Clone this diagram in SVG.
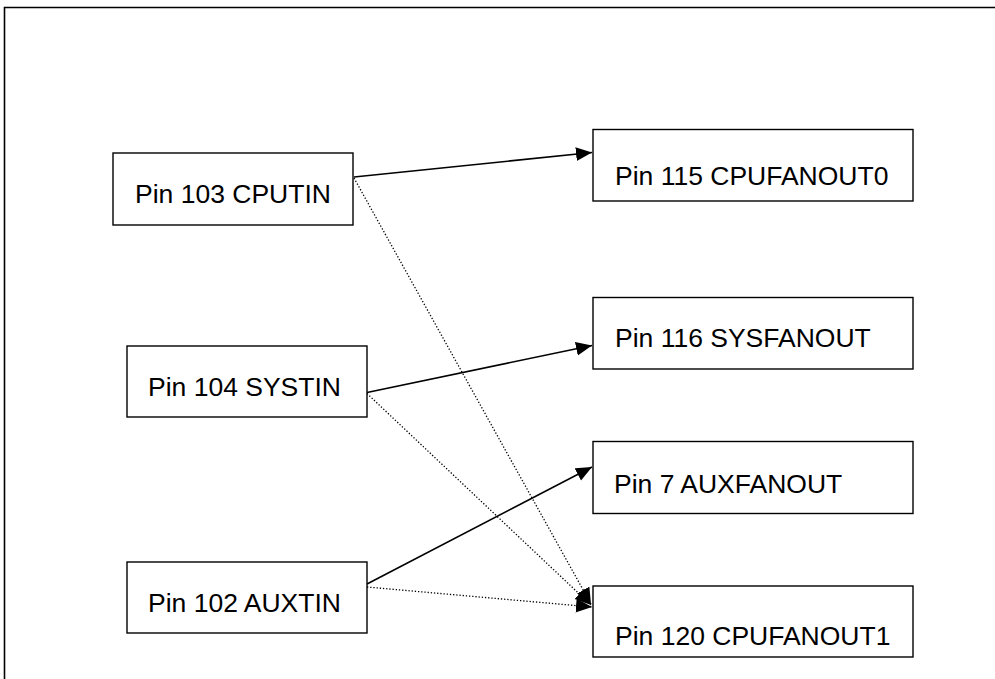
<svg xmlns="http://www.w3.org/2000/svg" width="995" height="679" viewBox="0 0 995 679">
<defs>
<style>
.box{fill:#fff;stroke:#000;stroke-width:1.4}
.lbl{font-family:"Liberation Sans",Arial,sans-serif;font-size:26.5px;fill:#000}
.solid{stroke:#000;stroke-width:1.6;fill:none}
.dot{stroke:#000;stroke-width:1.3;fill:none;stroke-dasharray:1.3 1.9}
</style>
<marker id="ah" markerUnits="userSpaceOnUse" markerWidth="18" markerHeight="16" refX="16" refY="7" orient="auto" viewBox="0 0 18 16">
<path d="M0,0 L16,7 L0,14 z" fill="#000"/>
</marker>
</defs>
<rect width="995" height="679" fill="#fff"/>
<path d="M4.5,679 V7.5 H995" fill="none" stroke="#000" stroke-width="1.6"/>
<g id="connectors">
<line class="solid" x1="354" y1="177" x2="592" y2="152.5" marker-end="url(#ah)"/>
<line class="solid" x1="367" y1="392.5" x2="592" y2="345.5" marker-end="url(#ah)"/>
<line class="solid" x1="367" y1="584" x2="592" y2="467" marker-end="url(#ah)"/>
<line class="dot" x1="354" y1="178" x2="591" y2="604" marker-end="url(#ah)"/>
<line class="dot" x1="367" y1="393.5" x2="591" y2="605" marker-end="url(#ah)"/>
<line class="dot" x1="367" y1="587" x2="592" y2="607" marker-end="url(#ah)"/>
</g>
<g id="n-cputin"><rect class="box" x="113" y="153" width="240" height="72"/><text class="lbl" x="135" y="203">Pin 103 CPUTIN</text></g>
<g id="n-systin"><rect class="box" x="127" y="346" width="240" height="71"/><text class="lbl" x="148" y="396">Pin 104 SYSTIN</text></g>
<g id="n-auxtin"><rect class="box" x="127" y="562" width="240" height="71"/><text class="lbl" x="148" y="612">Pin 102 AUXTIN</text></g>
<g id="n-cpufanout0"><rect class="box" x="593" y="129.5" width="320" height="71.5"/><text class="lbl" x="615" y="185">Pin 115 CPUFANOUT0</text></g>
<g id="n-sysfanout"><rect class="box" x="593" y="297.5" width="320" height="71.5"/><text class="lbl" x="615" y="347">Pin 116 SYSFANOUT</text></g>
<g id="n-auxfanout"><rect class="box" x="593" y="441.5" width="320" height="72"/><text class="lbl" x="614" y="493">Pin 7 AUXFANOUT</text></g>
<g id="n-cpufanout1"><rect class="box" x="593" y="586" width="320" height="71"/><text class="lbl" x="615" y="645">Pin 120 CPUFANOUT1</text></g>
</svg>
